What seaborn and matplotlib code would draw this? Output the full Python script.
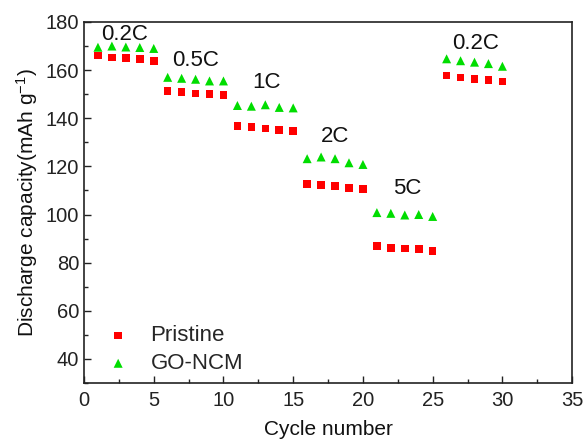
import numpy as np
import pandas as pd
import matplotlib
matplotlib.use("Agg")
import matplotlib.pyplot as plt
import seaborn as sns
from matplotlib.ticker import MultipleLocator

cycles = list(range(1, 31))
pristine = [166.0, 165.2, 165.0, 164.6, 163.8,
            151.4, 151.0, 150.3, 150.0, 149.7,
            136.7, 136.4, 135.7, 135.2, 134.6,
            112.8, 112.2, 111.9, 111.1, 110.6,
            86.8, 86.0, 85.8, 85.6, 84.9,
            157.8, 157.0, 156.4, 155.8, 155.3]
go_ncm = [169.5, 170.0, 169.6, 169.4, 169.0,
          157.0, 156.6, 156.2, 155.5, 155.5,
          145.3, 145.0, 145.6, 144.5, 144.3,
          123.2, 123.9, 123.2, 121.5, 120.8,
          100.8, 100.5, 99.8, 100.0, 99.2,
          164.7, 163.9, 163.3, 162.7, 161.6]
series_names = ["Pristine", "GO-NCM"]
rate_labels = ["0.2C", "0.5C", "1C", "2C", "5C", "0.2C"]
rate_x = [2.9, 8.0, 13.1, 18.0, 23.2, 28.1]
rate_y = [174.6, 164.0, 155.0, 132.5, 111.0, 171.0]

df = pd.DataFrame({
    "cycle": cycles * 2,
    "capacity": pristine + go_ncm,
    "sample": [series_names[0]] * len(cycles) + [series_names[1]] * len(cycles),
})

sns.set_style("ticks")
plt.rcParams["font.family"] = ["Liberation Sans", "DejaVu Sans"]
plt.rcParams["mathtext.fontset"] = "custom"
plt.rcParams["mathtext.rm"] = "Liberation Sans"
plt.rcParams["mathtext.it"] = "Liberation Sans"

fig = plt.figure(figsize=(5.85, 4.44), dpi=100)
ax = fig.add_axes([0.1436, 0.1374, 0.8344, 0.8131])

palette = {"Pristine": "#ff0000", "GO-NCM": "#00dd00"}
markers = {"Pristine": "s", "GO-NCM": "^"}
for name in series_names:
    sub = df[df["sample"] == name]
    sns.scatterplot(data=sub, x="cycle", y="capacity", ax=ax,
                    color=palette[name], marker=markers[name],
                    s=30 if name == "Pristine" else 42,
                    edgecolor="none", linewidth=0, label=name)

for lab, x, y in zip(rate_labels, rate_x, rate_y):
    ax.text(x, y, lab, ha="center", va="center", fontsize=16, color="#111111")

ax.set_xlim(0, 35)
ax.set_ylim(30, 180)
ax.xaxis.set_major_locator(MultipleLocator(5))
ax.xaxis.set_minor_locator(MultipleLocator(2.5))
ax.yaxis.set_major_locator(MultipleLocator(20))
ax.yaxis.set_minor_locator(MultipleLocator(10))
ax.set_yticks([40, 60, 80, 100, 120, 140, 160, 180])
ax.tick_params(which="both", direction="in", top=False, right=False,
               labelsize=14.5, colors="#222222", width=1.0)
ax.tick_params(which="major", length=5)
ax.tick_params(which="minor", length=3)
ax.tick_params(axis="x", pad=6)
for sp in ax.spines.values():
    sp.set_linewidth(1.2)
    sp.set_color("#222222")

ax.set_xlabel("Cycle number", fontsize=15, labelpad=7, color="#111111")
ax.set_ylabel("Discharge capacity(mAh g$^{-1}$)", fontsize=15, labelpad=4, color="#111111")

leg = ax.legend(loc="lower left", bbox_to_anchor=(0.029, 0.0), borderaxespad=0,
                frameon=False, fontsize=16, handletextpad=0.95, labelspacing=0.3,
                markerscale=1.0, handlelength=1.0)

fig.savefig("out.png", dpi=100)
